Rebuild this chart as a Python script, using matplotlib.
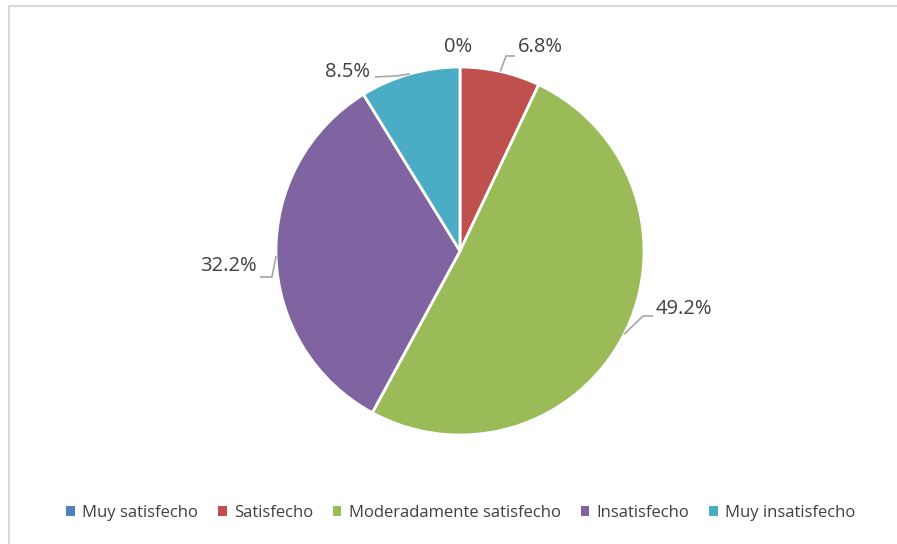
import matplotlib.pyplot as plt
import numpy as np
from matplotlib.patches import Patch, Rectangle

# Satisfaction survey data
categories = ["Muy satisfecho", "Satisfecho", "Moderadamente satisfecho",
              "Insatisfecho", "Muy insatisfecho"]
values = [0.0, 6.8, 49.2, 32.2, 8.5]
labels = ["0%", "6.8%", "49.2%", "32.2%", "8.5%"]
colors = ["#4F81BD", "#C0504D", "#9BBB59", "#8064A2", "#4BACC6"]

# label layout (data units, radius = 1): text centre, leader elbow, leader end
label_pos = [(-0.011, 1.109), (0.435, 1.109), (1.217, -0.315),
             (-1.261, -0.082), (-0.609, 0.973)]
elbows = [None, (0.25, 1.06), (0.995, -0.353), (-1.022, -0.141), (-0.353, 0.951)]
ends = [None, (0.299, 1.06), (1.049, -0.353), (-1.087, -0.141), (-0.462, 0.946)]

TEXT = "#404040"
FONT = ["Open Sans", "DejaVu Sans"]

fig = plt.figure(figsize=(8.97, 5.44), dpi=100)
# chart-area border, clipped by the right and bottom edges of the image
fig.patches.append(Rectangle((8.5 / 897, -10 / 544), 900 / 897, 548 / 544,
                             transform=fig.transFigure, fill=False,
                             edgecolor="#d9d9d9", linewidth=1.5))

ax = fig.add_axes([(460 - 276) / 897, (544 - 251 - 230) / 544,
                   552 / 897, 460 / 544])
ax.pie(values, colors=colors, startangle=90, counterclock=False,
       radius=1.0, wedgeprops=dict(edgecolor="white", linewidth=2))
ax.set_xlim(-1.5, 1.5)
ax.set_ylim(-1.25, 1.25)
ax.set_aspect("equal")
ax.axis("off")

# leader lines start from the mid-angle of each slice on the rim
fracs = np.array(values) / sum(values)
cum = np.cumsum(fracs) - fracs / 2
for i, lab in enumerate(labels):
    tx, ty = label_pos[i]
    ax.text(tx, ty, lab, ha="center", va="center", fontsize=14.5,
            color=TEXT, family=FONT)
    if elbows[i] is None:
        continue
    ang = np.deg2rad(90 - 360 * cum[i])
    x0, y0 = np.cos(ang), np.sin(ang)
    ex, ey = elbows[i]
    fx, fy = ends[i]
    ax.plot([x0, ex, fx], [y0, ey, fy], color="#a6a6a6", linewidth=1.2,
            solid_capstyle="butt")

handles = [Patch(facecolor=c, edgecolor="none") for c in colors]
fig.legend(handles, categories, loc="center", bbox_to_anchor=(461 / 897, 1 - 513 / 544),
           ncol=5, frameon=False, handlelength=0.5, handleheight=0.5,
           handletextpad=0.45, columnspacing=1.2,
           prop={"family": FONT, "size": 12}, labelcolor=TEXT)

fig.savefig("out.png", dpi=100)
